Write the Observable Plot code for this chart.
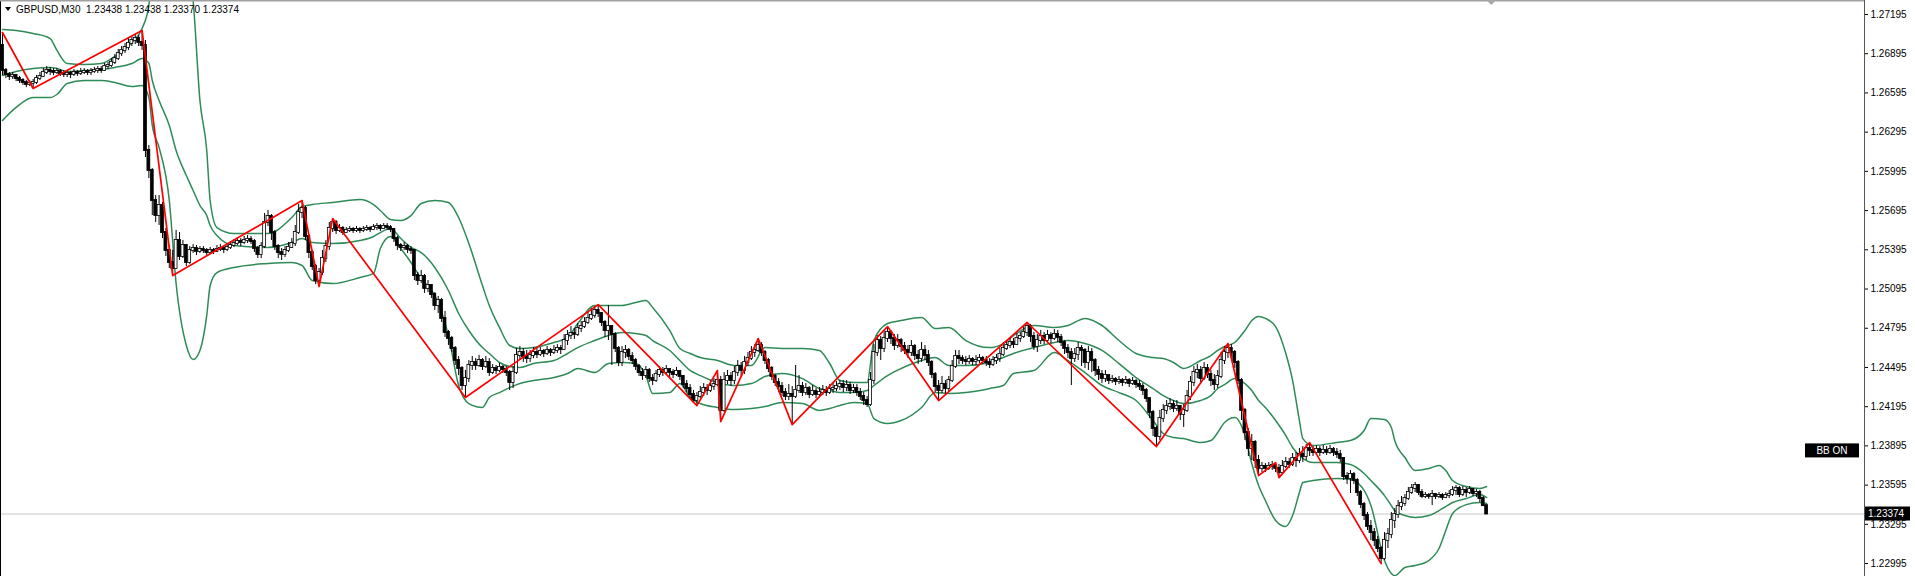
<!DOCTYPE html>
<html><head><meta charset="utf-8">
<script src="https://cdn.jsdelivr.net/npm/d3@7"></script>
<script src="https://cdn.jsdelivr.net/npm/@observablehq/plot@0.6"></script>
<style>
html,body{margin:0;padding:0;background:#fff;}
#chart{width:1915px;height:576px;overflow:hidden;}
</style></head><body><div id="chart"></div>
<script>
const symbol = "GBPUSD,M30";
const firstOpen = 1.26958;
const closes = [
1.26767,1.26736,1.26721,1.26728,1.26705,1.26690,1.26675,1.26659,1.26667,1.26675,
1.26705,1.26721,1.26751,1.26767,1.26759,1.26751,1.26759,1.26744,1.26736,1.26744,
1.26736,1.26751,1.26744,1.26751,1.26759,1.26751,1.26759,1.26767,1.26774,1.26767,
1.26797,1.26805,1.26828,1.26858,1.26897,1.26920,1.26942,1.26973,1.26996,1.27011,
1.26981,1.26958,1.26155,1.26002,1.25772,1.25657,1.25734,1.25527,1.25390,1.25298,
1.25252,1.25466,1.25344,1.25428,1.25298,1.25390,1.25405,1.25382,1.25397,1.25390,
1.25374,1.25390,1.25382,1.25397,1.25405,1.25397,1.25413,1.25428,1.25443,1.25458,
1.25451,1.25466,1.25474,1.25458,1.25405,1.25359,1.25420,1.25604,1.25650,1.25527,
1.25420,1.25374,1.25359,1.25390,1.25413,1.25443,1.25527,1.25680,1.25711,1.25497,
1.25374,1.25267,1.25160,1.25221,1.25328,1.25420,1.25558,1.25604,1.25543,1.25558,
1.25527,1.25543,1.25550,1.25543,1.25550,1.25543,1.25550,1.25558,1.25550,1.25565,
1.25573,1.25558,1.25573,1.25565,1.25550,1.25481,1.25428,1.25413,1.25420,1.25397,
1.25390,1.25198,1.25160,1.25191,1.25099,1.25122,1.25053,1.24969,1.25007,1.24870,
1.24762,1.24717,1.24640,1.24548,1.24487,1.24357,1.24410,1.24510,1.24533,1.24510,
1.24548,1.24502,1.24533,1.24456,1.24487,1.24472,1.24495,1.24479,1.24456,1.24380,
1.24456,1.24586,1.24609,1.24579,1.24563,1.24586,1.24609,1.24594,1.24617,1.24602,
1.24625,1.24609,1.24625,1.24640,1.24632,1.24701,1.24739,1.24755,1.24747,1.24793,
1.24808,1.24839,1.24870,1.24893,1.24931,1.24908,1.24839,1.24778,1.24808,1.24747,
1.24640,1.24533,1.24609,1.24625,1.24579,1.24548,1.24502,1.24456,1.24433,1.24472,
1.24410,1.24395,1.24441,1.24472,1.24456,1.24479,1.24456,1.24441,1.24464,1.24426,
1.24364,1.24334,1.24288,1.24242,1.24273,1.24303,1.24334,1.24319,1.24349,1.24364,
1.24395,1.24166,1.24395,1.24426,1.24395,1.24456,1.24502,1.24472,1.24533,1.24563,
1.24609,1.24625,1.24663,1.24609,1.24548,1.24487,1.24426,1.24380,1.24349,1.24303,
1.24273,1.24288,1.24273,1.24319,1.24349,1.24303,1.24334,1.24288,1.24311,1.24288,
1.24303,1.24319,1.24303,1.24326,1.24334,1.24349,1.24364,1.24341,1.24357,1.24319,
1.24334,1.24303,1.24273,1.24242,1.24211,1.24395,1.24609,1.24701,1.24640,1.24717,
1.24762,1.24717,1.24663,1.24701,1.24655,1.24625,1.24609,1.24655,1.24586,1.24563,
1.24625,1.24586,1.24533,1.24441,1.24349,1.24319,1.24364,1.24334,1.24395,1.24502,
1.24579,1.24563,1.24548,1.24540,1.24556,1.24540,1.24548,1.24563,1.24548,1.24533,
1.24518,1.24548,1.24563,1.24594,1.24640,1.24663,1.24686,1.24670,1.24717,1.24732,
1.24762,1.24808,1.24732,1.24655,1.24701,1.24732,1.24701,1.24739,1.24717,1.24747,
1.24724,1.24686,1.24640,1.24609,1.24563,1.24594,1.24640,1.24625,1.24533,1.24609,
1.24548,1.24472,1.24441,1.24410,1.24433,1.24395,1.24403,1.24387,1.24395,1.24380,
1.24395,1.24372,1.24387,1.24364,1.24349,1.24319,1.24257,1.24150,1.24028,1.23967,
1.24104,1.24166,1.24196,1.24211,1.24181,1.24196,1.24135,1.24166,1.24273,1.24380,
1.24456,1.24472,1.24410,1.24487,1.24441,1.24395,1.24364,1.24426,1.24548,1.24609,
1.24640,1.24609,1.24533,1.24395,1.24166,1.23997,1.23875,1.23921,1.23783,1.23722,
1.23737,1.23722,1.23737,1.23745,1.23722,1.23691,1.23737,1.23768,1.23753,1.23799,
1.23783,1.23829,1.23814,1.23875,1.23860,1.23844,1.23867,1.23844,1.23860,1.23844,
1.23867,1.23844,1.23829,1.23799,1.23661,1.23645,1.23676,1.23630,1.23538,1.23446,
1.23362,1.23278,1.23232,1.23171,1.23110,1.23033,1.23171,1.23217,1.23324,1.23370,
1.23431,1.23454,1.23492,1.23538,1.23569,1.23592,1.23538,1.23508,1.23515,1.23508,
1.23523,1.23508,1.23515,1.23500,1.23515,1.23523,1.23554,1.23569,1.23523,1.23554,
1.23538,1.23561,1.23531,1.23538,1.23492,1.23438,1.23374];
const highs = [
1.27057,1.26782,1.26751,1.26751,1.26736,1.26721,1.26705,1.26690,1.26690,1.26698,
1.26728,1.26751,1.26782,1.26797,1.26790,1.26782,1.26782,1.26774,1.26767,1.26767,
1.26759,1.26774,1.26767,1.26782,1.26782,1.26774,1.26782,1.26790,1.26797,1.26797,
1.26820,1.26828,1.26858,1.26889,1.26927,1.26950,1.26973,1.27011,1.27027,1.27042,
1.27034,1.27073,1.26996,1.26193,1.26017,1.25810,1.25810,1.25757,1.25558,1.25428,
1.25390,1.25543,1.25527,1.25466,1.25435,1.25420,1.25435,1.25428,1.25420,1.25420,
1.25405,1.25413,1.25405,1.25428,1.25435,1.25420,1.25443,1.25458,1.25474,1.25489,
1.25481,1.25497,1.25504,1.25497,1.25474,1.25420,1.25451,1.25673,1.25696,1.25665,
1.25543,1.25435,1.25405,1.25420,1.25451,1.25481,1.25581,1.25741,1.25772,1.25726,
1.25512,1.25390,1.25283,1.25252,1.25390,1.25466,1.25604,1.25634,1.25619,1.25588,
1.25573,1.25565,1.25573,1.25565,1.25573,1.25565,1.25573,1.25581,1.25573,1.25588,
1.25596,1.25588,1.25596,1.25596,1.25581,1.25558,1.25497,1.25443,1.25451,1.25435,
1.25420,1.25390,1.25221,1.25237,1.25206,1.25160,1.25129,1.25068,1.25038,1.25023,
1.24923,1.24778,1.24732,1.24655,1.24579,1.24502,1.24472,1.24548,1.24579,1.24563,
1.24587,1.24563,1.24579,1.24563,1.24518,1.24510,1.24525,1.24510,1.24502,1.24472,
1.24502,1.24640,1.24655,1.24640,1.24625,1.24625,1.24647,1.24640,1.24647,1.24632,
1.24655,1.24640,1.24663,1.24670,1.24663,1.24747,1.24778,1.24808,1.24793,1.24831,
1.24847,1.24877,1.24915,1.24946,1.24961,1.24976,1.24915,1.24854,1.24969,1.24808,
1.24762,1.24655,1.24655,1.24663,1.24640,1.24609,1.24563,1.24518,1.24487,1.24502,
1.24487,1.24441,1.24472,1.24502,1.24495,1.24510,1.24487,1.24479,1.24495,1.24472,
1.24433,1.24395,1.24364,1.24319,1.24303,1.24349,1.24372,1.24364,1.24395,1.24410,
1.24472,1.24426,1.24456,1.24472,1.24456,1.24502,1.24548,1.24533,1.24579,1.24609,
1.24655,1.24670,1.24716,1.24686,1.24625,1.24563,1.24502,1.24441,1.24410,1.24380,
1.24334,1.24364,1.24349,1.24510,1.24433,1.24380,1.24372,1.24349,1.24357,1.24334,
1.24341,1.24357,1.24349,1.24364,1.24372,1.24387,1.24395,1.24395,1.24395,1.24380,
1.24364,1.24364,1.24334,1.24303,1.24273,1.24456,1.24670,1.24739,1.24732,1.24778,
1.24808,1.24778,1.24747,1.24747,1.24717,1.24686,1.24663,1.24701,1.24670,1.24625,
1.24686,1.24663,1.24625,1.24548,1.24456,1.24395,1.24426,1.24395,1.24426,1.24548,
1.24625,1.24625,1.24586,1.24579,1.24586,1.24571,1.24586,1.24594,1.24579,1.24579,
1.24563,1.24579,1.24594,1.24640,1.24686,1.24701,1.24717,1.24717,1.24755,1.24762,
1.24808,1.24839,1.24824,1.24762,1.24747,1.24778,1.24762,1.24778,1.24762,1.24785,
1.24778,1.24747,1.24701,1.24670,1.24640,1.24640,1.24686,1.24663,1.24640,1.24655,
1.24640,1.24563,1.24502,1.24472,1.24472,1.24433,1.24433,1.24418,1.24426,1.24410,
1.24426,1.24410,1.24418,1.24403,1.24395,1.24372,1.24334,1.24257,1.24166,1.24043,
1.24166,1.24211,1.24242,1.24257,1.24242,1.24242,1.24204,1.24211,1.24319,1.24426,
1.24502,1.24518,1.24502,1.24533,1.24518,1.24472,1.24441,1.24472,1.24609,1.24655,
1.24678,1.24670,1.24625,1.24548,1.24410,1.24181,1.24028,1.23982,1.23936,1.23822,
1.23768,1.23760,1.23768,1.23776,1.23768,1.23753,1.23783,1.23806,1.23799,1.23837,
1.23845,1.23875,1.23890,1.23906,1.23921,1.23890,1.23898,1.23890,1.23898,1.23890,
1.23898,1.23883,1.23875,1.23860,1.23799,1.23691,1.23707,1.23691,1.23645,1.23554,
1.23462,1.23385,1.23324,1.23263,1.23202,1.23125,1.23232,1.23263,1.23385,1.23416,
1.23477,1.23508,1.23523,1.23577,1.23600,1.23615,1.23600,1.23561,1.23538,1.23531,
1.23554,1.23531,1.23538,1.23531,1.23538,1.23554,1.23584,1.23592,1.23584,1.23584,
1.23577,1.23584,1.23569,1.23561,1.23554,1.23508,1.23438];
const lows = [
1.26728,1.26705,1.26690,1.26698,1.26682,1.26667,1.26652,1.26636,1.26644,1.26629,
1.26659,1.26690,1.26713,1.26736,1.26728,1.26728,1.26736,1.26721,1.26713,1.26713,
1.26705,1.26721,1.26721,1.26728,1.26736,1.26728,1.26728,1.26744,1.26744,1.26744,
1.26759,1.26774,1.26790,1.26812,1.26843,1.26874,1.26897,1.26920,1.26950,1.26965,
1.26950,1.26920,1.26101,1.25940,1.25657,1.25604,1.25581,1.25481,1.25344,1.25252,
1.25198,1.25252,1.25313,1.25328,1.25267,1.25283,1.25367,1.25351,1.25367,1.25367,
1.25351,1.25359,1.25359,1.25374,1.25382,1.25367,1.25382,1.25397,1.25413,1.25428,
1.25420,1.25435,1.25443,1.25435,1.25374,1.25328,1.25328,1.25405,1.25573,1.25466,
1.25390,1.25328,1.25313,1.25336,1.25374,1.25405,1.25420,1.25512,1.25634,1.25466,
1.25328,1.25237,1.25129,1.25114,1.25198,1.25298,1.25390,1.25527,1.25512,1.25527,
1.25504,1.25520,1.25527,1.25520,1.25527,1.25520,1.25527,1.25535,1.25527,1.25543,
1.25543,1.25535,1.25550,1.25543,1.25527,1.25451,1.25390,1.25382,1.25390,1.25367,
1.25359,1.25160,1.25122,1.25137,1.25061,1.25068,1.25023,1.24931,1.24908,1.24839,
1.24724,1.24663,1.24609,1.24510,1.24433,1.24319,1.24265,1.24380,1.24472,1.24472,
1.24495,1.24472,1.24487,1.24426,1.24441,1.24441,1.24456,1.24449,1.24426,1.24319,
1.24334,1.24441,1.24548,1.24533,1.24525,1.24533,1.24563,1.24563,1.24579,1.24571,
1.24586,1.24579,1.24594,1.24602,1.24594,1.24625,1.24663,1.24709,1.24709,1.24732,
1.24762,1.24793,1.24824,1.24854,1.24870,1.24877,1.24808,1.24724,1.24701,1.24510,
1.24609,1.24502,1.24502,1.24563,1.24548,1.24518,1.24472,1.24426,1.24395,1.24410,
1.24380,1.24357,1.24380,1.24418,1.24426,1.24441,1.24418,1.24410,1.24426,1.24395,
1.24334,1.24303,1.24250,1.24219,1.24204,1.24257,1.24273,1.24280,1.24303,1.24319,
1.24349,1.24082,1.24150,1.24364,1.24349,1.24364,1.24426,1.24426,1.24441,1.24502,
1.24548,1.24571,1.24609,1.24579,1.24518,1.24456,1.24395,1.24349,1.24303,1.24273,
1.24242,1.24242,1.24058,1.24257,1.24296,1.24273,1.24280,1.24257,1.24273,1.24257,
1.24265,1.24280,1.24273,1.24288,1.24296,1.24311,1.24319,1.24303,1.24311,1.24288,
1.24296,1.24273,1.24242,1.24204,1.24189,1.24196,1.24364,1.24579,1.24548,1.24609,
1.24686,1.24670,1.24625,1.24640,1.24609,1.24594,1.24563,1.24579,1.24548,1.24518,
1.24533,1.24548,1.24502,1.24410,1.24303,1.24242,1.24296,1.24288,1.24303,1.24380,
1.24487,1.24518,1.24518,1.24510,1.24518,1.24510,1.24510,1.24525,1.24518,1.24502,
1.24487,1.24502,1.24518,1.24533,1.24579,1.24625,1.24640,1.24640,1.24663,1.24686,
1.24717,1.24732,1.24686,1.24625,1.24609,1.24670,1.24670,1.24686,1.24678,1.24701,
1.24686,1.24655,1.24594,1.24563,1.24357,1.24533,1.24548,1.24502,1.24487,1.24472,
1.24456,1.24426,1.24395,1.24372,1.24380,1.24364,1.24372,1.24357,1.24364,1.24349,
1.24364,1.24341,1.24357,1.24334,1.24319,1.24280,1.24227,1.24104,1.23967,1.23890,
1.23936,1.24074,1.24135,1.24166,1.24150,1.24158,1.24089,1.24036,1.24150,1.24242,
1.24349,1.24410,1.24380,1.24395,1.24410,1.24349,1.24319,1.24334,1.24410,1.24518,
1.24563,1.24563,1.24487,1.24364,1.24089,1.23936,1.23814,1.23783,1.23722,1.23668,
1.23691,1.23691,1.23707,1.23707,1.23691,1.23653,1.23676,1.23722,1.23722,1.23737,
1.23730,1.23760,1.23768,1.23783,1.23814,1.23814,1.23822,1.23814,1.23829,1.23822,
1.23829,1.23814,1.23799,1.23768,1.23630,1.23600,1.23531,1.23600,1.23508,1.23416,
1.23324,1.23248,1.23171,1.23125,1.23079,1.22995,1.23018,1.23110,1.23186,1.23263,
1.23339,1.23400,1.23431,1.23477,1.23523,1.23538,1.23515,1.23492,1.23492,1.23485,
1.23439,1.23485,1.23492,1.23477,1.23492,1.23492,1.23508,1.23515,1.23500,1.23508,
1.23500,1.23523,1.23508,1.23500,1.23462,1.23431,1.23370];

const zigzagBars   = [0,9,41,50,88,93,97,136,175,204,210,211,222,232,260,275,301,339,360,369,374,375,384,405];
const zigzagPrices = [1.27057,1.26629,1.27073,1.25198,1.25772,1.25114,1.25634,1.24265,1.24976,1.24203,1.24471,1.24081,1.24716,1.24058,1.24808,1.24242,1.24839,1.23890,1.24678,1.23668,1.23767,1.23652,1.23920,1.22995];

const bandBars = [0,4,9,14,16,19,24,29,33,38,41,43,44,46,49,51,54,56,58,60,61,63,68,78,85,88,91,97,105,109,111,114,117,120,123,127,131,134,137,141,143,146,149,152,156,162,166,169,174,178,182,186,189,191,196,199,202,205,210,215,220,224,229,235,240,243,246,250,254,256,260,264,270,274,278,283,290,294,297,303,309,313,318,323,328,333,338,341,344,347,352,355,357,359,362,365,367,369,371,374,377,379,381,382,385,392,396,400,402,406,408,409,412,415,419,422,424,426,430,434,436];
const bandUpper = [1.27080,1.27073,1.27050,1.27011,1.26920,1.26820,1.26812,1.26820,1.26874,1.26981,1.27088,1.27264,1.27608,1.27914,1.28220,1.28067,1.27608,1.27302,1.26537,1.26155,1.25772,1.25565,1.25520,1.25520,1.25642,1.25726,1.25741,1.25757,1.25780,1.25741,1.25696,1.25627,1.25619,1.25657,1.25749,1.25772,1.25757,1.25642,1.25443,1.25122,1.24969,1.24801,1.24663,1.24640,1.24647,1.24686,1.24724,1.24831,1.24969,1.24969,1.24969,1.24992,1.25007,1.24954,1.24778,1.24640,1.24602,1.24571,1.24548,1.24510,1.24510,1.24647,1.24640,1.24640,1.24625,1.24525,1.24395,1.24380,1.24380,1.24701,1.24831,1.24854,1.24877,1.24793,1.24801,1.24701,1.24647,1.24678,1.24739,1.24816,1.24801,1.24816,1.24870,1.24816,1.24701,1.24602,1.24571,1.24563,1.24533,1.24487,1.24548,1.24586,1.24625,1.24655,1.24686,1.24778,1.24854,1.24885,1.24870,1.24808,1.24602,1.24395,1.24089,1.23951,1.23898,1.23921,1.23936,1.24013,1.24104,1.24097,1.24036,1.23936,1.23806,1.23707,1.23722,1.23745,1.23707,1.23630,1.23584,1.23569,1.23584];
const bandMiddle = [1.26728,1.26759,1.26782,1.26790,1.26782,1.26759,1.26767,1.26774,1.26790,1.26820,1.26858,1.26820,1.26690,1.26537,1.26346,1.26155,1.25963,1.25849,1.25734,1.25657,1.25581,1.25504,1.25428,1.25413,1.25451,1.25481,1.25451,1.25443,1.25466,1.25497,1.25527,1.25558,1.25481,1.25413,1.25374,1.25260,1.25084,1.24908,1.24778,1.24647,1.24602,1.24533,1.24502,1.24495,1.24525,1.24548,1.24602,1.24647,1.24701,1.24739,1.24762,1.24755,1.24739,1.24701,1.24625,1.24548,1.24472,1.24433,1.24380,1.24357,1.24372,1.24426,1.24449,1.24410,1.24334,1.24319,1.24303,1.24303,1.24319,1.24357,1.24433,1.24487,1.24548,1.24571,1.24510,1.24510,1.24533,1.24571,1.24602,1.24647,1.24686,1.24701,1.24678,1.24625,1.24525,1.24418,1.24334,1.24280,1.24242,1.24219,1.24242,1.24280,1.24334,1.24364,1.24410,1.24372,1.24319,1.24242,1.24189,1.24089,1.23974,1.23883,1.23821,1.23799,1.23768,1.23768,1.23753,1.23684,1.23630,1.23515,1.23439,1.23400,1.23362,1.23347,1.23362,1.23400,1.23431,1.23462,1.23492,1.23523,1.23500];
const bandLower = [1.26384,1.26484,1.26560,1.26560,1.26583,1.26667,1.26690,1.26690,1.26675,1.26644,1.26652,1.26560,1.26346,1.26178,1.25772,1.25137,1.24663,1.24556,1.24625,1.24893,1.25122,1.25221,1.25260,1.25290,1.25298,1.25275,1.25160,1.25137,1.25183,1.25214,1.25405,1.25497,1.25405,1.25298,1.25175,1.25046,1.24739,1.24357,1.24219,1.24189,1.24265,1.24303,1.24341,1.24372,1.24395,1.24418,1.24449,1.24487,1.24456,1.24525,1.24533,1.24525,1.24433,1.24296,1.24303,1.24372,1.24265,1.24219,1.24189,1.24173,1.24181,1.24196,1.24227,1.24219,1.24166,1.24181,1.24204,1.24227,1.24219,1.24104,1.24066,1.24089,1.24189,1.24303,1.24296,1.24303,1.24334,1.24357,1.24449,1.24472,1.24609,1.24548,1.24456,1.24357,1.24303,1.24242,1.24089,1.23990,1.23959,1.23951,1.23921,1.23936,1.23997,1.24074,1.24112,1.23974,1.23760,1.23592,1.23477,1.23324,1.23278,1.23362,1.23538,1.23615,1.23630,1.23645,1.23638,1.23554,1.23439,1.23018,1.22919,1.22903,1.22965,1.22980,1.23018,1.23110,1.23248,1.23378,1.23446,1.23462,1.23454];

const priceTicks = [1.27195,1.26895,1.26595,1.26295,1.25995,1.25695,1.25395,1.25095,1.24795,1.24495,1.24195,1.23895,1.23595,1.23295,1.22995];
const indicatorLabel = "BB ON";

// tables built from the arrays
const bars = closes.map((c, i) => ({i, o: i ? closes[i - 1] : firstOpen, h: highs[i], l: lows[i], c}));
const bands = bandBars.map((b, k) => ({i: b, u: bandUpper[k], m: bandMiddle[k], l: bandLower[k]}));
const zigzag = zigzagBars.map((b, k) => ({i: b, p: zigzagPrices[k]}));
const last = bars[bars.length - 1];

const W = 1915, H = 576, MR = 51;
const pxPerBar = 3.404, firstBarPx = 2;
const xDomain = [-firstBarPx / pxPerBar, (W - MR - firstBarPx) / pxPerBar];
const yDomain = [1.22896, 1.27302];
const green = "#2e8b57";

const plot = Plot.plot({
  width: W, height: H,
  marginLeft: 0, marginRight: MR, marginTop: 0, marginBottom: 0,
  style: {fontFamily: "'Liberation Sans', Arial, sans-serif", fontSize: "10px", background: "#fff", color: "#000"},
  x: {domain: xDomain, axis: null},
  y: {domain: yDomain, axis: "right", ticks: priceTicks, tickFormat: d => d.toFixed(5), tickSize: 3, tickPadding: 3, label: null},
  marks: [
    Plot.ruleY([last.c], {stroke: "#c8c8c8", strokeWidth: 1}),
    Plot.line(bands, {x: "i", y: "u", stroke: green, strokeWidth: 1.5, curve: "monotone-x", clip: true}),
    Plot.line(bands, {x: "i", y: "m", stroke: green, strokeWidth: 1.5, curve: "monotone-x", clip: true}),
    Plot.line(bands, {x: "i", y: "l", stroke: green, strokeWidth: 1.5, curve: "monotone-x", clip: true}),
    Plot.ruleX(bars, {x: "i", y1: "l", y2: "h", stroke: "#000", strokeWidth: 1}),
    Plot.rect(bars, {x1: d => d.i - 0.42, x2: d => d.i + 0.42, y1: "o", y2: "c",
      fill: d => d.c >= d.o ? "#fff" : "#000", stroke: "#000", strokeWidth: 0.8,
      insetTop: -0.5, insetBottom: -0.5}),
    Plot.line(zigzag, {x: "i", y: "p", stroke: "#ff0000", strokeWidth: 1.7})
  ]
});

document.getElementById("chart").appendChild(plot);

const svg = d3.select(plot);
const ys = plot.scale("y");
const xs = plot.scale("x");
const axisX = W - MR;
const overlay = svg.append("g").attr("text-anchor", "start")
  .attr("font-family", "'Liberation Sans', Arial, sans-serif").attr("font-size", 10);

// frame lines
overlay.append("line").attr("x1", 0.5).attr("x2", 0.5).attr("y1", 0).attr("y2", H).attr("stroke", "#000");
overlay.append("line").attr("x1", 0).attr("x2", axisX).attr("y1", 0.75).attr("y2", 0.75).attr("stroke", "#a0a0a0").attr("stroke-width", 1.5);
overlay.append("line").attr("x1", axisX + 0.5).attr("x2", axisX + 0.5).attr("y1", 0).attr("y2", H).attr("stroke", "#555");

// chart shift marker
const shiftX = xs.apply(last.i + 1.5);
overlay.append("path").attr("d", `M${shiftX - 5},0L${shiftX + 5},0L${shiftX},5Z`).attr("fill", "#a8a8a8");

// title
overlay.append("path").attr("d", "M5,7L11,7L8,11Z").attr("fill", "#000");
const f5 = v => v.toFixed(5);
overlay.append("text").attr("x", 16).attr("y", 13).attr("xml:space", "preserve")
  .attr("text-anchor", "start").attr("fill", "#000")
  .text(`${symbol}  ${f5(last.o)} ${f5(last.h)} ${f5(last.l)} ${f5(last.c)}`);

// current price label
const py = ys.apply(last.c);
overlay.append("rect").attr("x", axisX + 1).attr("y", py - 7).attr("width", 45).attr("height", 14).attr("fill", "#000");
overlay.append("text").attr("x", axisX + 4).attr("y", py + 3.5).attr("text-anchor", "start").attr("fill", "#fff").text(f5(last.c));

// indicator badge
const by = ys.apply(1.23895);
overlay.append("rect").attr("x", axisX - 59).attr("y", by - 2).attr("width", 54).attr("height", 14).attr("fill", "#000");
overlay.append("text").attr("x", axisX - 32).attr("y", by + 8.5).attr("text-anchor", "middle").attr("fill", "#fff").text(indicatorLabel);
</script>
</body></html>
